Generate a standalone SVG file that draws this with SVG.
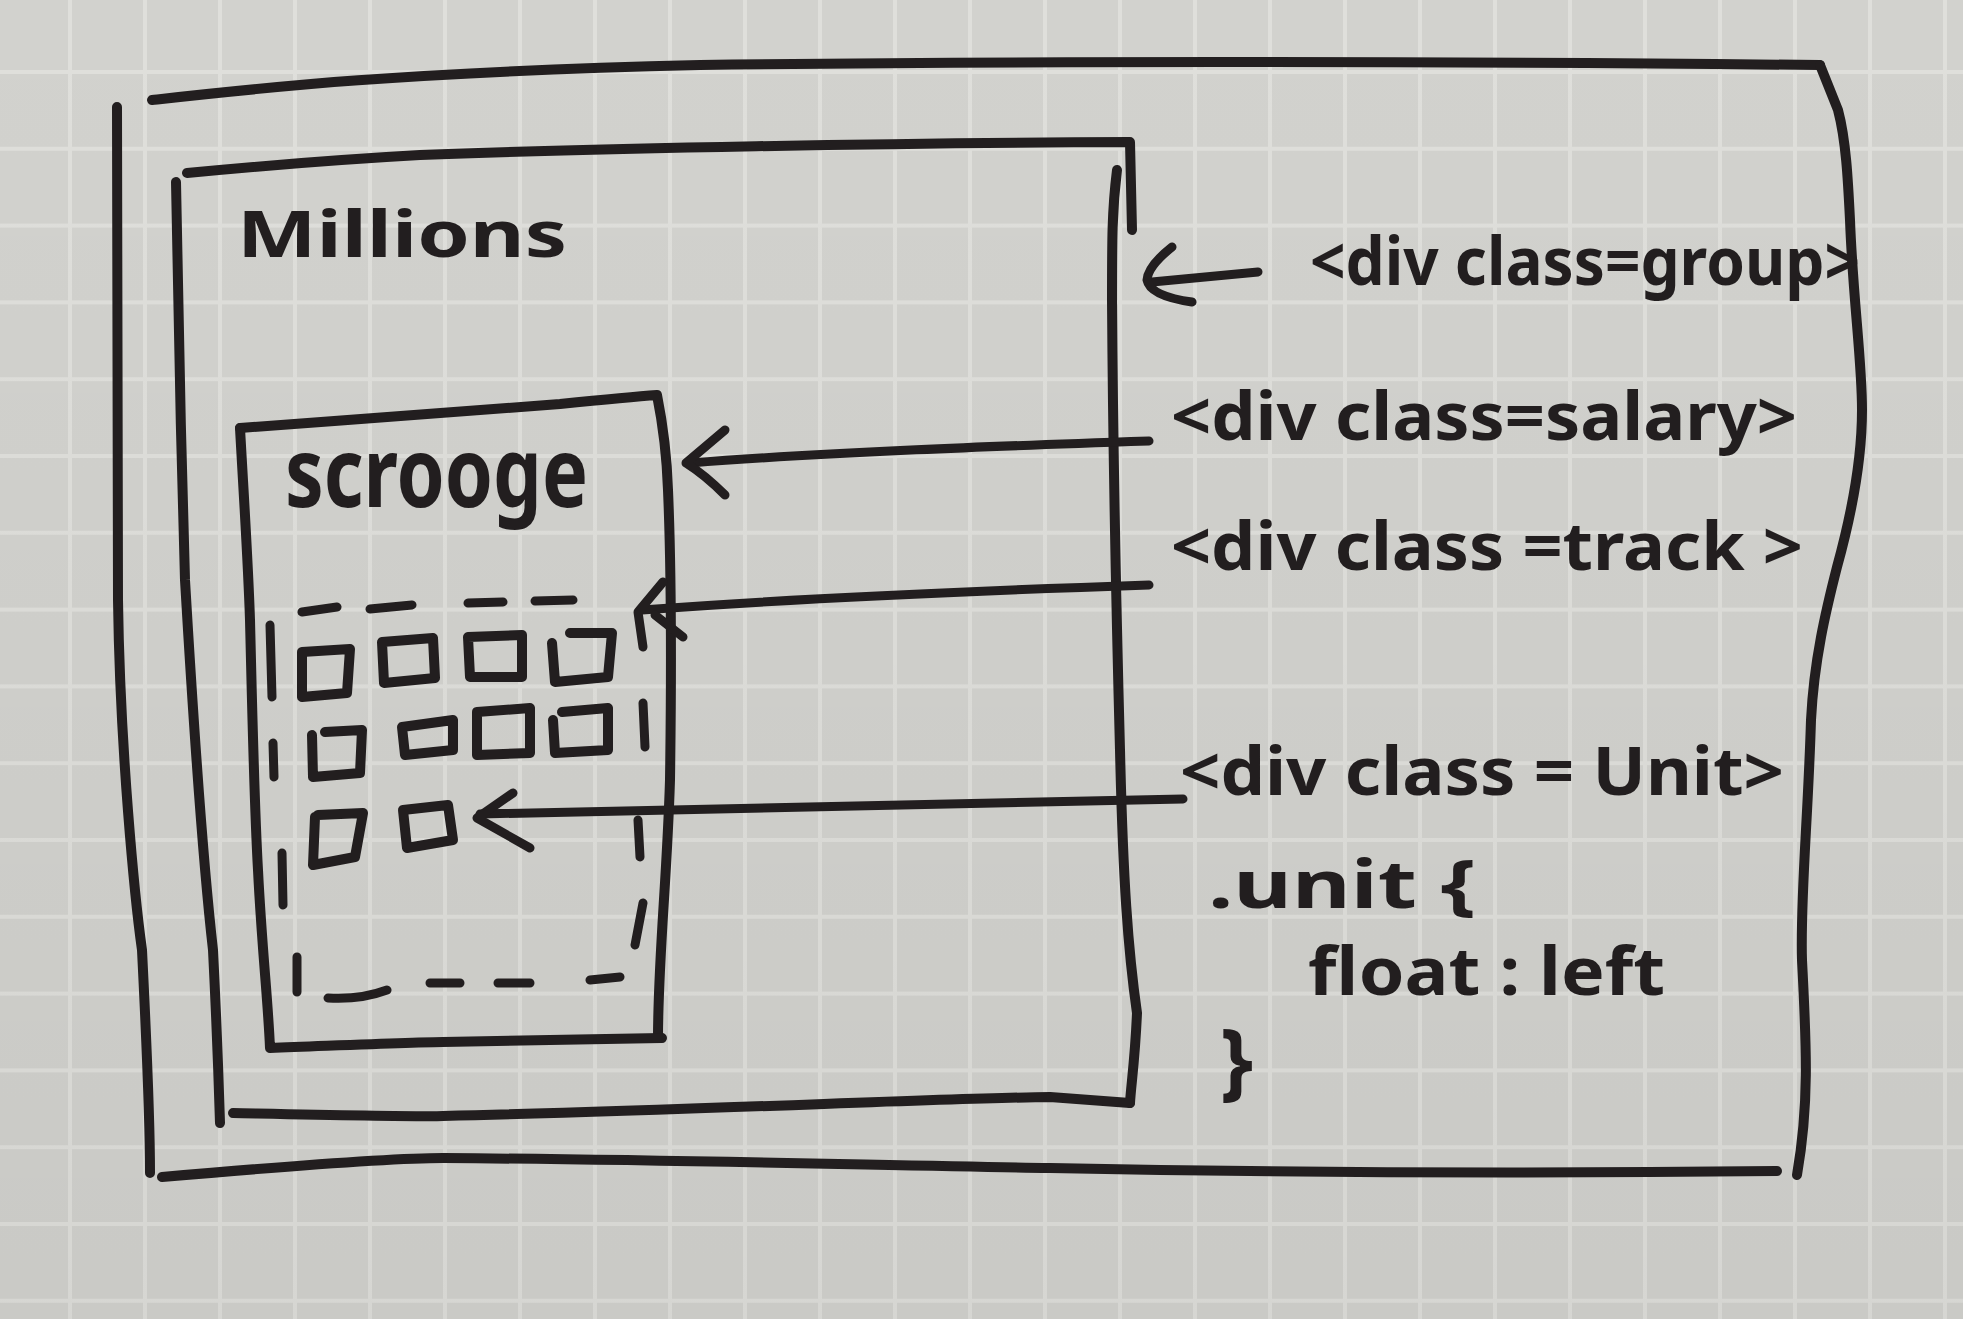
<svg xmlns="http://www.w3.org/2000/svg" width="1963" height="1319" viewBox="0 0 1963 1319">
  <defs>
    <!-- squared notebook paper -->
    <pattern id="grid" patternUnits="userSpaceOnUse" x="68" y="70" width="75" height="76.8">
      <rect width="75" height="76.8" fill="#d2d2ce"/>
      <rect x="0" y="0" width="75" height="4" fill="#dfdfdb"/>
      <rect x="0" y="0" width="4" height="76.8" fill="#dfdfdb"/>
    </pattern>
    <linearGradient id="shade" x1="0" y1="0" x2="0" y2="1">
      <stop offset="0" stop-color="#000" stop-opacity="0"/>
      <stop offset="1" stop-color="#000" stop-opacity="0.04"/>
    </linearGradient>
    <style>
      .ink { fill: none; stroke: #221e1f; stroke-linecap: round; stroke-linejoin: round; }
      .box { stroke-width: 10; }
      .arrow { stroke-width: 9; }
      .unit { stroke-width: 10; }
      .dash { stroke-width: 9; }
      .hand { fill: #221e1f; font-family: "Noto Sans", "DejaVu Sans", sans-serif; font-weight: 700; }
    </style>
  </defs>

  <rect width="1963" height="1319" fill="url(#grid)"/>
  <rect width="1963" height="1319" fill="url(#shade)"/>

  <!-- page wrapper -->
  <g id="page">
    <path class="ink box" d="M152,100 C260,88 400,72 700,65 C1100,60 1500,62 1820,65"/>
    <path class="ink box" d="M117,107 C116,300 117,450 118,600 C120,750 135,900 142,950 C147,1050 150,1120 150,1173"/>
    <path class="ink box" d="M162,1177 C300,1165 400,1158 443,1158 C700,1160 900,1166 1050,1168 C1300,1173 1500,1174 1777,1171"/>
    <path class="ink box" d="M1820,65 L1838,110 C1846,140 1848,180 1850,220 C1853,300 1862,360 1862,410 C1862,460 1850,520 1837,567 C1826,610 1814,660 1811,720 C1808,820 1800,900 1802,960 C1806,1040 1810,1100 1797,1175"/>
  </g>

  <!-- group box -->
  <g id="group">
    <path class="ink box" d="M187,173 C260,166 330,160 420,155 C600,148 900,143 1130,142 L1132,230"/>
    <path class="ink box" d="M1117,170 C1112,210 1112,240 1112,300 C1113,450 1116,600 1120,750 C1123,880 1128,950 1137,1013 C1135,1060 1131,1085 1130,1103"/>
    <path class="ink box" d="M176,182 C178,300 181,450 185,580 C195,750 205,880 213,950 C217,1030 219,1090 220,1123"/>
    <path class="ink box" d="M233,1113 C330,1115 420,1117 443,1116 C700,1110 950,1098 1050,1097 L1130,1103"/>
    <text class="hand" x="237" y="257" font-size="64" textLength="330" lengthAdjust="spacingAndGlyphs">Millions</text>
  </g>

  <!-- salary box -->
  <g id="salary">
    <path class="ink box" d="M240,428 C350,420 480,410 560,404 C600,400 630,397 657,395 C664,430 667,460 668,490 C671,560 672,640 670,780 C667,880 658,960 658,1038"/>
    <path class="ink box" d="M240,428 C244,500 248,560 250,620 C252,700 254,800 258,870 C262,950 268,1000 270,1048 C350,1045 420,1042 443,1042 C530,1040 600,1039 662,1038"/>
    <text class="hand" x="285" y="507" font-size="96" textLength="303" lengthAdjust="spacingAndGlyphs">scrooge</text>
  </g>

  <!-- track (dashed outline) -->
  <g id="track">
    <path class="ink dash" d="M302,612 L337,607 M370,609 L412,605 M468,603 L503,602 M535,601 L573,600"/>
    <path class="ink dash" d="M270,625 L272,697 M273,743 L274,777 M282,853 L283,905 M297,957 L297,992"/>
    <path class="ink dash" d="M643,703 L645,747 M638,820 L640,857 M643,903 L635,945"/>
    <path class="ink dash" d="M328,998 Q360,1000 387,990 M430,983 L460,983 M498,983 L530,983 M590,980 L620,977"/>
  </g>

  <!-- units -->
  <g id="units">
    <path class="ink unit" d="M302,652 L350,649 L347,693 L302,697 Z"/>
    <path class="ink unit" d="M382,642 L433,638 L435,678 L384,683 Z"/>
    <path class="ink unit" d="M468,637 L522,635 L522,677 L470,677 Z"/>
    <path class="ink unit" d="M570,633 L612,633 L608,677 L555,682 L552,643"/>
    <path class="ink unit" d="M325,732 L362,730 L360,773 L313,777 L312,735"/>
    <path class="ink unit" d="M402,727 L453,720 L453,750 L405,755 Z"/>
    <path class="ink unit" d="M477,712 L530,708 L530,753 L477,755 Z"/>
    <path class="ink unit" d="M562,712 L608,708 L608,750 L555,753 L553,720"/>
    <path class="ink unit" d="M318,815 L363,813 L355,857 L313,865 L315,817"/>
    <path class="ink unit" d="M403,810 L448,805 L453,840 L407,848 Z"/>
  </g>

  <!-- labels -->
  <g id="labels">
    <text class="hand" x="1310" y="285" font-size="66" textLength="550" lengthAdjust="spacingAndGlyphs">&lt;div class=group&gt;</text>
    <text class="hand" x="1171" y="440" font-size="66" textLength="626" lengthAdjust="spacingAndGlyphs">&lt;div class=salary&gt;</text>
    <text class="hand" x="1171" y="570" font-size="66" textLength="632" lengthAdjust="spacingAndGlyphs">&lt;div class =track &gt;</text>
    <text class="hand" x="1180" y="795" font-size="66" textLength="604" lengthAdjust="spacingAndGlyphs">&lt;div class = Unit&gt;</text>
    <text class="hand" x="1208" y="908" font-size="66" textLength="268" lengthAdjust="spacingAndGlyphs">.unit {</text>
    <text class="hand" x="1308" y="995" font-size="66" textLength="357" lengthAdjust="spacingAndGlyphs">float : left</text>
    <text class="hand" x="1220" y="1090" font-size="84">}</text>
  </g>

  <!-- connectors -->
  <g id="connectors">
    <path class="ink arrow" d="M1258,272 L1152,282"/>
    <path class="ink arrow" d="M1172,247 Q1148,266 1147,280 Q1150,296 1192,302"/>

    <path class="ink arrow" d="M1149,441 C1000,446 830,452 690,463"/>
    <path class="ink arrow" d="M725,430 L686,463 Q705,475 725,495"/>

    <path class="ink arrow" d="M1149,585 C1000,590 800,598 642,610"/>
    <path class="ink arrow" d="M663,582 L638,612 L643,647 M655,615 L683,637"/>

    <path class="ink arrow" d="M1183,799 L480,814"/>
    <path class="ink arrow" d="M513,793 L477,818 L530,848"/>
  </g>
</svg>
